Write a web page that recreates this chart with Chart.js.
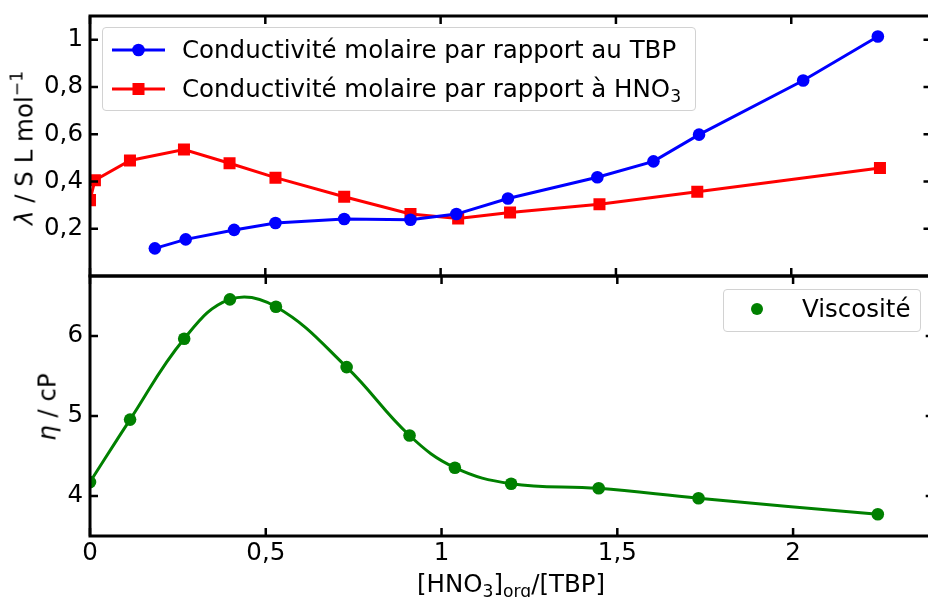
<!DOCTYPE html>
<html>
<head>
<meta charset="utf-8">
<script src="https://cdn.jsdelivr.net/npm/chart.js@4"></script>
<style>
  html, body { margin: 0; padding: 0; background: #fff; overflow: hidden; }
  #wrap { position: relative; width: 928px; height: 597px; overflow: hidden; font-family: 'DejaVu Sans', sans-serif; color: #000; }
  canvas { position: absolute; left: 0; top: 0; }
  .legend { position: absolute; background: rgba(255,255,255,0.8); border: 1px solid #d2d2d2; border-radius: 4px; box-sizing: border-box; }
  .row { position: absolute; left: 0; height: 30px; line-height: 30px; font-size: 24.5px; white-space: nowrap; }
  .row svg { position: absolute; top: 0; }
  .row span { position: absolute; top: 0; }
  .title { position: absolute; font-size: 24.5px; white-space: nowrap; transform: translate(-50%, -50%); }
  .title.rot { transform: translate(-50%, -50%) rotate(-90deg); }
  sub, sup { font-size: 70%; line-height: 0; }
  sub { vertical-align: -0.3em; }
  sup { vertical-align: 0.6em; }
</style>
</head>
<body>
<div id="wrap">
  <canvas id="chartTop" width="940" height="597"></canvas>
  <canvas id="chartBottom" width="940" height="597"></canvas>

  <div class="legend" style="left:102px; top:27px; width:594px; height:84px;">
    <div class="row" style="top:7px; width:590px;">
      <svg width="60" height="30" style="left:8px;"><line x1="1" y1="15" x2="54" y2="15" stroke="#0000ff" stroke-width="3"/><circle cx="27.5" cy="15" r="6.3" fill="#0000ff"/></svg>
      <span style="left:79px;">Conductivité molaire par rapport au TBP</span>
    </div>
    <div class="row" style="top:45.5px; width:590px;">
      <svg width="60" height="30" style="left:8px;"><line x1="1" y1="15" x2="54" y2="15" stroke="#ff0000" stroke-width="3"/><rect x="21.5" y="9" width="12" height="12" fill="#ff0000"/></svg>
      <span style="left:79px;">Conductivité molaire par rapport à HNO<sub>3</sub></span>
    </div>
  </div>

  <div class="legend" style="left:723px; top:289px; width:198px; height:43px;">
    <div class="row" style="top:4px; width:194px;">
      <svg width="30" height="30" style="left:20px;"><circle cx="13" cy="15" r="6" fill="#008000"/></svg>
      <span style="left:78px;">Viscosité</span>
    </div>
  </div>

  <div class="title rot" style="left:24px; top:148px;"><i>λ</i> / S L mol<sup>−1</sup></div>
  <div class="title rot" style="left:47px; top:407px;"><i>η</i> / cP</div>
  <div class="title" style="left:511px; top:583px;">[HNO<sub>3</sub>]<sub>org</sub>/[TBP]</div>
</div>

<script>
// ---- data
const xTicks = [0, 0.5, 1, 1.5, 2];
const topYTicks = [0.2, 0.4, 0.6, 0.8, 1];
const bottomYTicks = [4, 5, 6];

const tbpX = [0.185, 0.273, 0.411, 0.529, 0.725, 0.914, 1.045, 1.192, 1.447, 1.607, 1.737, 2.034, 2.247];
const tbpY = [0.117, 0.155, 0.195, 0.224, 0.241, 0.238, 0.262, 0.328, 0.418, 0.485, 0.598, 0.827, 1.013];

const hno3X = [0, 0.014, 0.114, 0.268, 0.398, 0.529, 0.725, 0.914, 1.050, 1.198, 1.453, 1.732, 2.253];
const hno3Y = [0.321, 0.405, 0.489, 0.535, 0.477, 0.416, 0.335, 0.262, 0.243, 0.269, 0.304, 0.356, 0.457];

const viscX = [0, 0.114, 0.268, 0.398, 0.529, 0.730, 0.909, 1.038, 1.198, 1.447, 1.731, 2.241];
const viscY = [4.174, 4.955, 5.966, 6.458, 6.366, 5.611, 4.756, 4.354, 4.154, 4.096, 3.971, 3.772];

const toPoints = (xs, ys) => xs.map((x, i) => ({ x: x, y: ys[i] }));
const fmt = v => String(v).replace('.', ',');
const FONT = { family: "'DejaVu Sans', sans-serif", size: 24.5 };

// inward ticks on every side + black frame, like the matplotlib style
const framePlugin = {
  id: 'frame',
  afterDatasetsDraw(chart, args, opts) {
    const { ctx, chartArea: a, scales } = chart;
    const len = 8;
    ctx.save();
    ctx.strokeStyle = '#000';
    ctx.lineWidth = 2.5;
    ctx.beginPath();
    opts.xTicks.forEach(v => {
      const px = scales.x.getPixelForValue(v);
      ctx.moveTo(px, a.top); ctx.lineTo(px, a.top + len);
      ctx.moveTo(px, a.bottom); ctx.lineTo(px, a.bottom - len);
    });
    opts.yTicks.forEach(v => {
      const py = scales.y.getPixelForValue(v);
      ctx.moveTo(a.left, py); ctx.lineTo(a.left + len, py);
      ctx.moveTo(a.right, py); ctx.lineTo(a.right - len, py);
    });
    ctx.stroke();
    ctx.lineWidth = 3;
    ctx.strokeRect(a.left, a.top, a.right - a.left, a.bottom - a.top);
    ctx.restore();
  }
};

const yScale = (min, max, ticks) => ({
  type: 'linear',
  min: min,
  max: max,
  afterBuildTicks: s => { s.ticks = ticks.map(v => ({ value: v })); },
  afterFit: s => { s.width = 90; s.paddingTop = 0; s.paddingBottom = 0; },
  grid: { display: false, drawTicks: false },
  border: { display: false },
  ticks: { color: '#000', font: FONT, padding: 7, callback: fmt }
});

document.addEventListener('DOMContentLoaded', () => {
  createTop();
  createBottom();
});

const createTop = () => {
  const ctx = document.getElementById('chartTop').getContext('2d');
  const config = {
    type: 'line',
    data: {
      datasets: [{
        label: 'Conductivité molaire par rapport au TBP',
        data: toPoints(tbpX, tbpY),
        borderColor: '#0000ff',
        backgroundColor: '#0000ff',
        borderWidth: 3,
        pointStyle: 'circle',
        pointRadius: 6.3,
        pointBorderWidth: 0,
        tension: 0
      }, {
        label: 'Conductivité molaire par rapport à HNO₃',
        data: toPoints(hno3X, hno3Y),
        borderColor: '#ff0000',
        backgroundColor: '#ff0000',
        borderWidth: 3,
        pointStyle: 'rect',
        pointRadius: 8.5,
        pointBorderWidth: 0,
        tension: 0
      }]
    },
    options: {
      responsive: false,
      animation: false,
      layout: { padding: { top: 16, right: 6, bottom: 321, left: 0 } },
      plugins: {
        legend: { display: false },
        tooltip: { enabled: false },
        frame: { xTicks: xTicks, yTicks: topYTicks }
      },
      scales: {
        x: { type: 'linear', min: 0, max: 2.4, display: false },
        y: yScale(0, 1.1, topYTicks)
      }
    },
    plugins: [framePlugin]
  };
  new Chart(ctx, config);
};

const createBottom = () => {
  const ctx = document.getElementById('chartBottom').getContext('2d');
  const config = {
    type: 'line',
    data: {
      datasets: [{
        label: 'fit',
        data: toPoints(viscX, viscY),
        borderColor: '#008000',
        borderWidth: 3,
        pointRadius: 0,
        tension: 0.4
      }, {
        label: 'Viscosité',
        data: toPoints(viscX, viscY),
        showLine: false,
        backgroundColor: '#008000',
        borderColor: '#008000',
        pointRadius: 6.3,
        pointBorderWidth: 0
      }]
    },
    options: {
      responsive: false,
      animation: false,
      layout: { padding: { top: 276, right: 6, bottom: 0, left: 0 } },
      plugins: {
        legend: { display: false },
        tooltip: { enabled: false },
        frame: { xTicks: xTicks, yTicks: bottomYTicks }
      },
      scales: {
        x: {
          type: 'linear',
          min: 0,
          max: 2.4,
          afterBuildTicks: s => { s.ticks = xTicks.map(v => ({ value: v })); },
          afterFit: s => { s.height = 61; },
          grid: { display: false, drawTicks: false },
          border: { display: false },
          ticks: { color: '#000', font: FONT, padding: 3, autoSkip: false, maxRotation: 0, callback: fmt }
        },
        y: yScale(3.5, 6.75, bottomYTicks)
      }
    },
    plugins: [framePlugin]
  };
  new Chart(ctx, config);
};
</script>
</body>
</html>
